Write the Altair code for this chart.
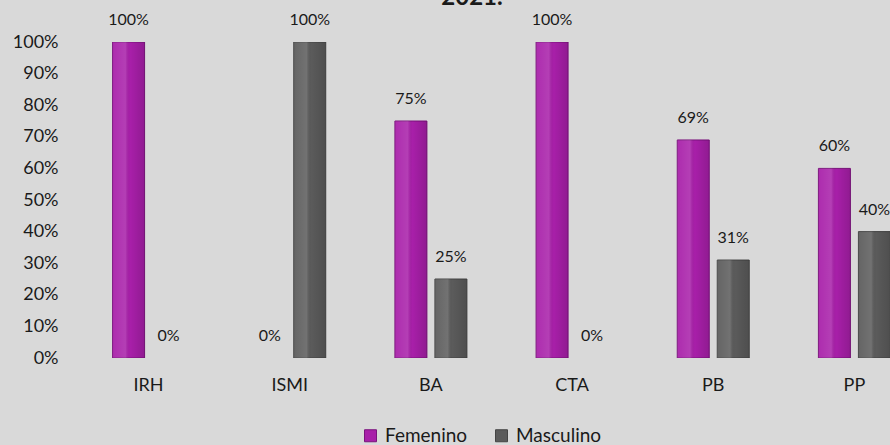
import altair as alt
import pandas as pd

# Participación por sexo en cada área (porcentaje)
categorias = ["IRH", "ISMI", "BA", "CTA", "PB", "PP"]
femenino = [100, 0, 75, 100, 69, 60]
masculino = [0, 100, 25, 0, 31, 40]
series = ["Femenino", "Masculino"]
colores = ["#a81fa9", "#5b5b5b"]
bordes = ["#7a137c", "#444444"]
titulo = ["2021."]

rows = []
for i, c in enumerate(categorias):
    rows.append({"categoria": c, "sexo": series[0], "valor": femenino[i] / 100})
    rows.append({"categoria": c, "sexo": series[1], "valor": masculino[i] / 100})
df = pd.DataFrame(rows)

FONT = "Lato"
TEXT = "#1a1a1a"

x = alt.X(
    "categoria:N",
    sort=categorias,
    scale=alt.Scale(range=[0, 847], paddingInner=0.49, paddingOuter=0.245),
    axis=alt.Axis(title=None, labelAngle=0, domain=False, ticks=False,
                  labelPadding=18, labelFontSize=18, labelColor=TEXT,
                  labelFont=FONT),
)
x_off = alt.XOffset("sexo:N", sort=series,
                    scale=alt.Scale(paddingInner=0.2, paddingOuter=0))
y = alt.Y(
    "valor:Q",
    scale=alt.Scale(domain=[0, 1]),
    axis=alt.Axis(title=None, format=".0%", domain=False, ticks=False,
                  grid=False, labelPadding=20, labelFontSize=18,
                  labelColor=TEXT, labelFont=FONT,
                  values=[i / 10 for i in range(11)]),
)

base = alt.Chart(df).encode(x=x, xOffset=x_off, y=y)

# Only non-zero bars are drawn; zero values keep just their label
bars = base.transform_filter("datum.valor > 0").mark_bar(
    clip=True, strokeWidth=1
).encode(
    color=alt.Color("sexo:N", sort=series,
                    scale=alt.Scale(domain=series, range=colores),
                    legend=alt.Legend(title=None)),
    stroke=alt.Stroke("sexo:N", scale=alt.Scale(domain=series, range=bordes),
                      legend=None),
)

# Soft bevel shading across each bar
shine = base.transform_filter("datum.valor > 0").mark_bar(
    clip=True,
    fill=alt.Gradient(
        gradient="linear", x1=0, x2=1, y1=0, y2=0,
        stops=[
            alt.GradientStop(offset=0, color="rgba(255,255,255,0.06)"),
            alt.GradientStop(offset=0.4, color="rgba(255,255,255,0.14)"),
            alt.GradientStop(offset=0.55, color="rgba(0,0,0,0.0)"),
            alt.GradientStop(offset=1, color="rgba(0,0,0,0.14)"),
        ],
    ),
)

labels = base.mark_text(dy=-17, baseline="alphabetic",
                        fontSize=16, font=FONT, color=TEXT).encode(
    text=alt.Text("valor:Q", format=".0%")
)

title = alt.Chart(pd.DataFrame({"t": titulo})).mark_text(
    fontSize=24, fontWeight="bold", font=FONT, color=TEXT,
    baseline="alphabetic", align="center"
).encode(text="t:N", x=alt.value(394), y=alt.value(-37))

chart = alt.layer(bars, shine, labels, title).properties(
    width=812, height=316,
    autosize=alt.AutoSizeParams(type="none"),
    padding={"left": 78, "top": 42, "right": 0, "bottom": 87},
    background="#d9d9d9",
).configure_view(stroke=None).configure_legend(
    orient="none", legendX=283, legendY=384, direction="horizontal",
    symbolType="square", symbolSize=144, labelFontSize=19, labelFont=FONT,
    labelColor=TEXT, labelOffset=5, columnPadding=24, padding=0,
    symbolStrokeWidth=1,
)

chart.save("out.html", embed_options={"renderer": "svg", "actions": False})
